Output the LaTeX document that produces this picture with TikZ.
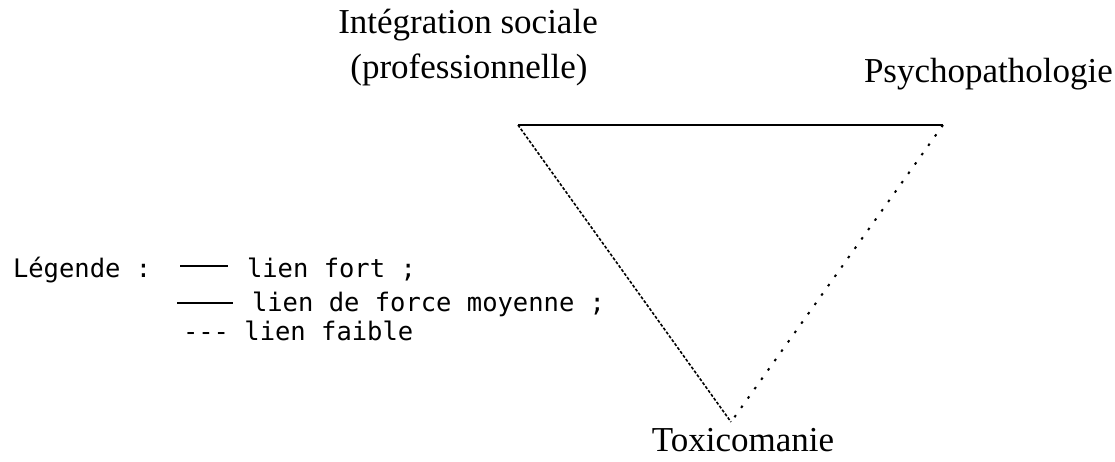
\documentclass[tikz,border=0pt]{standalone}
\usepackage{fontspec}
\setmainfont{Liberation Serif}
\newfontfamily\legendfont{DejaVu Sans Mono}
\begin{document}
\begin{tikzpicture}[x=1pt,y=-1pt,
  lbl/.style={inner sep=0pt,outer sep=0pt,font=\fontsize{35}{40}\selectfont},
  leg/.style={inner sep=0pt,outer sep=0pt,anchor=base west,font=\legendfont\fontsize{25.5}{30}\selectfont},
  fort/.style={line width=2.2pt},
  moyen/.style={line width=1.6pt,dash pattern=on 3pt off 1.8pt},
  faible/.style={line width=2pt,dash pattern=on 2.5pt off 9pt},
  legline/.style={line width=1.8pt}]
\useasboundingbox (0,0) rectangle (1115,461);
% vertices
\coordinate (IS) at (518,125);
\coordinate (PS) at (943,125);
\coordinate (TX) at (731,422);
% labels
\node[lbl,anchor=base] (is1) at (468,33) {Intégration sociale};
\node[lbl,anchor=base] (is2) at (469,78) {(professionnelle)};
\node[lbl,anchor=base west] (ps) at (864,82) {Psychopathologie};
\node[lbl,anchor=base] (tx) at (743,451) {Toxicomanie};
% links
\draw[fort] (IS) -- (PS);
\draw[moyen] (IS) -- (TX);
\draw[faible] (PS) -- (TX);
% legend
\node[leg] (lg) at (13,277) {Légende :};
\coordinate (l1a) at (180,266); \coordinate (l1b) at (228,266);
\draw[legline] (l1a) -- (l1b);
\node[leg] (lf) at (247,277) {lien fort ;};
\coordinate (l2a) at (177,303); \coordinate (l2b) at (233,303);
\draw[legline] (l2a) -- (l2b);
\node[leg] (lm) at (252,311) {lien de force moyenne ;};
\node[leg] (lw) at (183,340) {-{}-{}- lien faible};
\end{tikzpicture}
\end{document}
